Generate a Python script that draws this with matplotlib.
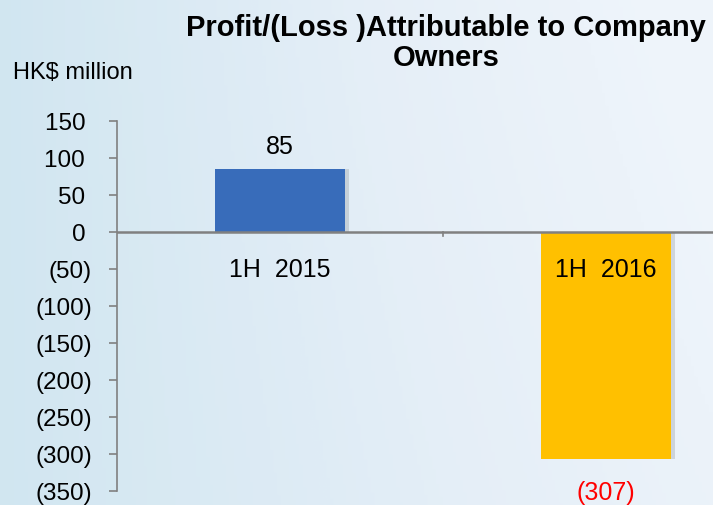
import matplotlib.pyplot as plt
import numpy as np

plt.rcParams["font.family"] = ["Liberation Sans", "DejaVu Sans"]

periods = ["1H  2015", "1H  2016"]
profit = [85, -307]
value_labels = ["85", "(307)"]
bar_colors = ["#386cba", "#ffc000"]
yticks = [150, 100, 50, 0, -50, -100, -150, -200, -250, -300, -350]


def fmt(v):
    # accounting style: negatives in brackets, positives padded for the ")"
    return f"({abs(v)})" if v < 0 else f"{v} "


fig = plt.figure(figsize=(7.13, 5.06), dpi=100)
fig.patch.set_facecolor("white")

# faint backdrop, roughly like the slide background (bluish on the left)
bg = fig.add_axes([0, 0, 1, 1], zorder=-10)
gx, gy = np.meshgrid(np.linspace(0, 1, 200), np.linspace(0, 1, 200))
shade = np.clip(1.0 - 1.1 * gx + 0.25 * gy * gx, 0, 1)
bg.imshow(shade, aspect="auto", cmap=plt.cm.Blues, vmin=-0.6, vmax=3.5,
          extent=[0, 1, 0, 1], origin="upper", alpha=0.45)
bg.axis("off")

ax = fig.add_axes([117 / 713, 14 / 506, 652 / 713, 370 / 506])
ax.patch.set_alpha(0)
x = np.arange(len(periods))

# drop shadows
ax.bar(x + 0.012, profit, width=0.4, color="#000000", alpha=0.12, zorder=1)
ax.bar(x, profit, width=0.4, color=bar_colors, zorder=2)

ax.set_xlim(-0.5, 1.5)
ax.set_ylim(-350, 150)
ax.set_yticks(yticks)
ax.set_yticklabels([fmt(v) for v in yticks], fontsize=17.5)
ax.tick_params(axis="y", length=6, color="#808080", width=1.2, pad=12)

ax.spines["top"].set_visible(False)
ax.spines["right"].set_visible(False)
ax.spines["bottom"].set_visible(False)
ax.spines["left"].set_color("#808080")
ax.spines["left"].set_linewidth(1.2)
ax.axhline(0, color="#808080", lw=1.8, zorder=3)
ax.set_xticks([])
# divider tick between categories
ax.plot([0.5, 0.5], [0, -6], color="#808080", lw=1.2, zorder=3)

for xi, name in zip(x, periods):
    ax.text(xi, -50, name, ha="center", va="center", fontsize=18, zorder=4)

ax.text(x[0], 116, value_labels[0], ha="center", va="center", fontsize=18,
        color="black")
ax.text(x[1], -352, value_labels[1], ha="center", va="center", fontsize=18,
        color="#ff0000", clip_on=False)

fig.text(0.626, 0.915, "Profit/(Loss )Attributable to Company\nOwners",
         ha="center", va="center", fontsize=21, fontweight="bold",
         linespacing=1.1)
fig.text(0.018, 0.855, "HK$ million", ha="left", va="center", fontsize=17)

fig.savefig("out.png", dpi=100)
